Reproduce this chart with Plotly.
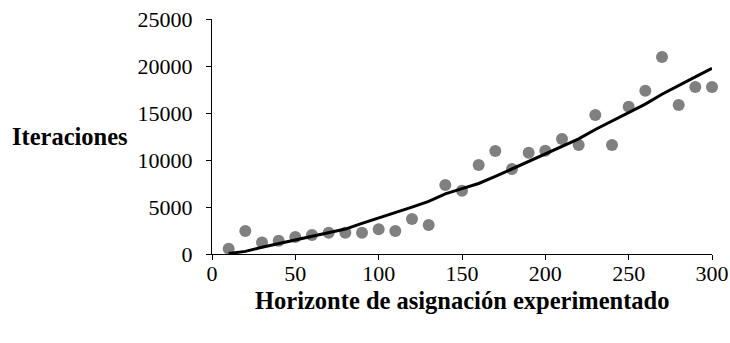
import plotly.graph_objects as go

x_vals = [10, 20, 30, 40, 50, 60, 70, 80, 90, 100, 110, 120, 130, 140, 150,
          160, 170, 180, 190, 200, 210, 220, 230, 240, 250, 260, 270, 280, 290, 300]
iter_obs = [550, 2450, 1220, 1420, 1820, 2020, 2260, 2260, 2250, 2640, 2450, 3720, 3090, 7340, 6720,
            9470, 10960, 9040, 10770, 10980, 12230, 11600, 14790, 11600, 15660, 17360, 20960, 15850, 17770, 17770]
iter_trend = [50, 280, 720, 1100, 1460, 1880, 2230, 2650, 3250, 3800, 4350, 4980, 5600, 6400, 6950,
              7500, 8250, 9050, 9900, 10650, 11500, 12250, 13250, 14150, 15050, 15950, 17000, 17950, 18850, 19750]

x_ticks = [0, 50, 100, 150, 200, 250, 300]
x_ticktext = ["0", "50", "100", "150", "200", "250", "300"]
y_ticks = [0, 5000, 10000, 15000, 20000, 25000]
y_ticktext = ["0", "5000", "10000", "15000", "20000", "25000"]

FONT = "Liberation Serif"
TICK_SIZE = 22
TITLE_SIZE = 24.5

fig = go.Figure()
fig.add_trace(go.Scatter(x=x_vals, y=iter_obs, mode="markers",
                         marker=dict(color="#808080", size=12, line=dict(width=0)),
                         showlegend=False, cliponaxis=False))
fig.add_trace(go.Scatter(x=x_vals, y=iter_trend, mode="lines",
                         line=dict(color="black", width=3), showlegend=False))

fig.update_layout(
    width=730, height=343,
    margin=dict(l=212, r=18, t=19, b=89, autoexpand=False),
    paper_bgcolor="white", plot_bgcolor="white",
    font=dict(family=FONT, size=TICK_SIZE, color="black"),
    xaxis=dict(range=[0, 300], tickvals=x_ticks, ticktext=x_ticktext, showgrid=False, zeroline=False,
               showline=True, linecolor="black", linewidth=1, automargin=False,
               ticks="outside", ticklen=5, tickcolor="black", tickwidth=1,
               ticklabeloverflow="allow",
               ticklabelstandoff=-5, tickfont=dict(family=FONT, size=TICK_SIZE)),
    yaxis=dict(range=[0, 25000], tickvals=y_ticks, ticktext=y_ticktext, showgrid=False, zeroline=False,
               showline=True, linecolor="black", linewidth=1, automargin=False,
               ticks="outside", ticklen=5, tickcolor="black", tickwidth=1,
               ticklabeloverflow="allow",
               ticklabelstandoff=9, tickfont=dict(family=FONT, size=TICK_SIZE)),
    annotations=[
        dict(text="<b>Iteraciones</b>", xref="paper", yref="paper",
             x=-0.404, y=0.5, xanchor="left", yanchor="middle", showarrow=False,
             font=dict(family=FONT, size=TITLE_SIZE)),
        dict(text="<b>Horizonte de asignación experimentado</b>", xref="paper", yref="paper",
             x=0.5, y=-0.196, xanchor="center", yanchor="middle", showarrow=False,
             font=dict(family=FONT, size=TITLE_SIZE)),
    ],
)

fig.write_html("out.html",
               config={"displayModeBar": False},
               post_script="document.body.style.margin='0';document.body.style.overflow='hidden';")
